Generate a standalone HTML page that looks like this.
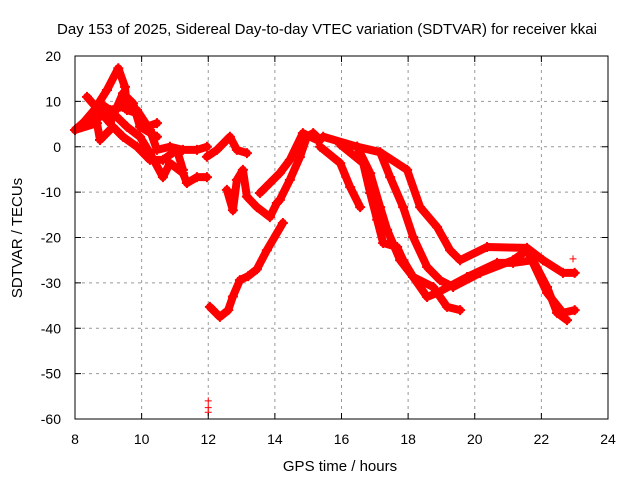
<!DOCTYPE html>
<html><head><meta charset="utf-8"><style>
body{margin:0;background:#fff}
svg{display:block;font-family:"Liberation Sans",sans-serif}
</style></head><body>
<svg id="chart" width="640" height="480" viewBox="0 0 640 480" xmlns="http://www.w3.org/2000/svg">
<rect width="640" height="480" fill="#fff"/>
<text x="327" y="34" font-size="15" text-anchor="middle">Day 153 of 2025, Sidereal Day-to-day VTEC variation (SDTVAR) for receiver kkai</text>
<g id="grid"></g>
<g id="series"></g>
<rect x="75" y="56" width="533" height="363" fill="none" stroke="#000" stroke-width="1"/>
<g id="ticks"></g>
<text x="340" y="471" font-size="15" text-anchor="middle">GPS time / hours</text>
<text transform="translate(22,238) rotate(-90)" font-size="15" text-anchor="middle">SDTVAR / TECUs</text>
</svg>
<script>
const xTicks=[8,10,12,14,16,18,20,22,24];
const yTicks=[20,10,0,-10,-20,-30,-40,-50,-60];
const trackA=[[8,3.7],[8.45,6.6],[8.96,12.5],[9.3,17.3],[9.5,13.2],[9.56,8.1],[9.86,7.4],[10.16,4.4],[10.46,5.2]];
const trackB=[[8,3.7],[8.75,6.6],[9.14,7.4],[9.56,4.4],[9.95,2.2],[10.25,-1.4],[10.64,-6.7],[10.85,-3.6],[11.24,-5.8],[11.36,-8],[11.66,-6.7],[11.96,-6.7]];
const trackC=[[8,3.7],[8.66,5.2],[8.75,1.5],[9.14,4.4],[9.44,2.2],[9.86,0],[10.25,-2.9],[10.64,-2.9],[11.06,-0.7],[11.24,-5.1]];
const trackD=[[8.24,5.2],[8.75,9.6],[9.05,8.1],[9.44,8.8],[9.86,8.1],[10.25,3.7],[10.46,-0.7],[10.85,0],[11.24,-0.7],[11.66,-0.7],[11.96,0]];
const trackE=[[8.36,11],[9.05,5.2],[9.44,11.8],[9.74,9.6],[9.95,4.4],[10.46,2.2]];
const trackF=[[11.96,-2.2],[12.26,-0.7],[12.65,2.2],[12.86,-0.7],[13.16,-1.4]];
const trackG=[[12.56,-9.5],[12.74,-14],[12.86,-7.3],[13.04,-5.1],[13.16,-11],[13.46,-13.3],[13.85,-15.5],[14.06,-12.4],[14.15,-11.7],[14.45,-7.3],[14.75,-2.3],[14.96,2.2],[15.15,3.0],[15.36,1.5]];
const trackH=[[13.55,-10.2],[13.85,-8],[14.15,-5.8],[14.45,-2.9],[14.84,3.0],[15.26,1.5]];
const trackM=[[12.05,-35.3],[12.35,-37.5],[12.6,-36],[12.74,-33],[12.95,-29.4],[13.2,-28.5],[13.46,-27],[13.76,-22.8],[14.24,-16.8]];
const trackK=[[15.36,0],[15.96,-3.6],[16.26,-8.9],[16.56,-13.3]];
const trackP=[[15.45,2.2],[16.47,0],[17.16,-1.2],[17.97,-5.1],[18.36,-13.3],[18.87,-17.7],[19.26,-22.8],[19.56,-25],[20.37,-22.1],[21.57,-22.3],[22.05,-25],[22.65,-27.8],[23.0,-27.8]];
const trackQ=[[16.47,0],[17.16,-1.2],[17.46,-6.7],[17.85,-13.3],[18.15,-19.9],[18.57,-26.5],[18.96,-29.4],[19.35,-30.9],[20.16,-27.8],[21.15,-25],[21.57,-22.8],[22.17,-32.2],[22.65,-36.6],[23.0,-36]];
const trackR=[[16.47,0],[16.86,-5.8],[17.16,-13.3],[17.37,-18.3],[17.76,-25],[18.15,-28.7],[18.57,-33.1],[18.87,-32.2],[19.77,-28.7],[20.67,-25.6],[21.15,-25.6],[21.75,-25],[22.17,-30.9],[22.47,-36.6],[22.77,-38.2]];
const trackJ=[[15.96,0.5],[16.65,-3.6],[16.86,-10.2],[17.07,-16.1],[17.25,-21.2],[17.67,-22.1],[17.85,-25],[18.15,-28.7],[18.75,-30.9],[19.17,-35.3],[19.56,-36]];
const strayPoints=[[12.0,-56],[12.0,-57.5],[12.0,-58.5],[22.95,-24.7]];
const tracks=[trackA,trackB,trackC,trackD,trackE,trackF,trackG,trackH,trackM,trackK,trackP,trackQ,trackR,trackJ];

const X0=75,X1=608,Y0=56,Y1=419;
const xs=h=>X0+(h-8)/16*(X1-X0);
const ys=v=>Y0+(20-v)/80*(Y1-Y0);
const NS="http://www.w3.org/2000/svg";
function mk(tag,attrs,parent){const e=document.createElementNS(NS,tag);for(const k in attrs)e.setAttribute(k,attrs[k]);parent.appendChild(e);return e;}
const grid=document.getElementById('grid'),ticks=document.getElementById('ticks'),series=document.getElementById('series');
xTicks.forEach(t=>{const x=xs(t);
 if(t>8&&t<24){const l=mk('line',{x1:x,x2:x,y1:Y0,y2:Y1,stroke:'#999','stroke-dasharray':'3,4'},grid);
 
 }
 mk('line',{x1:x,x2:x,y1:Y1,y2:Y1-6,stroke:'#000'},ticks);mk('line',{x1:x,x2:x,y1:Y0,y2:Y0+6,stroke:'#000'},ticks);
 const tx=mk('text',{x:x,y:Y1+25,'font-size':14,'text-anchor':'middle'},ticks);tx.textContent=t;
 
 });
yTicks.forEach(t=>{const y=ys(t);
 if(t<20&&t>-60){const l=mk('line',{x1:X0,x2:X1,y1:y,y2:y,stroke:'#999','stroke-dasharray':'3,4'},grid);
 
 }
 mk('line',{x1:X0,x2:X0+6,y1:y,y2:y,stroke:'#000'},ticks);mk('line',{x1:X1,x2:X1-6,y1:y,y2:y,stroke:'#000'},ticks);
 const tx=mk('text',{x:X0-14,y:y+5,'font-size':14,'text-anchor':'end'},ticks);tx.textContent=t;
 
 });
function plus(h,v,s,w){const x=xs(h),y=ys(v);
 const p=mk('path',{d:`M${x-s},${y}H${x+s}M${x},${y-s}V${y+s}`,stroke:'#f00','stroke-width':w,fill:'none'},series);
 
 }
tracks.forEach(tr=>{
 const pl=mk('polyline',{points:tr.map(p=>xs(p[0])+','+ys(p[1])).join(' '),fill:'none',stroke:'#f00','stroke-width':8,'stroke-linejoin':'round','stroke-linecap':'round'},series);
 
 
 tr.forEach(p=>plus(p[0],p[1],5,2));});
strayPoints.forEach(p=>plus(p[0],p[1],3.5,1));
</script>
</body></html>
